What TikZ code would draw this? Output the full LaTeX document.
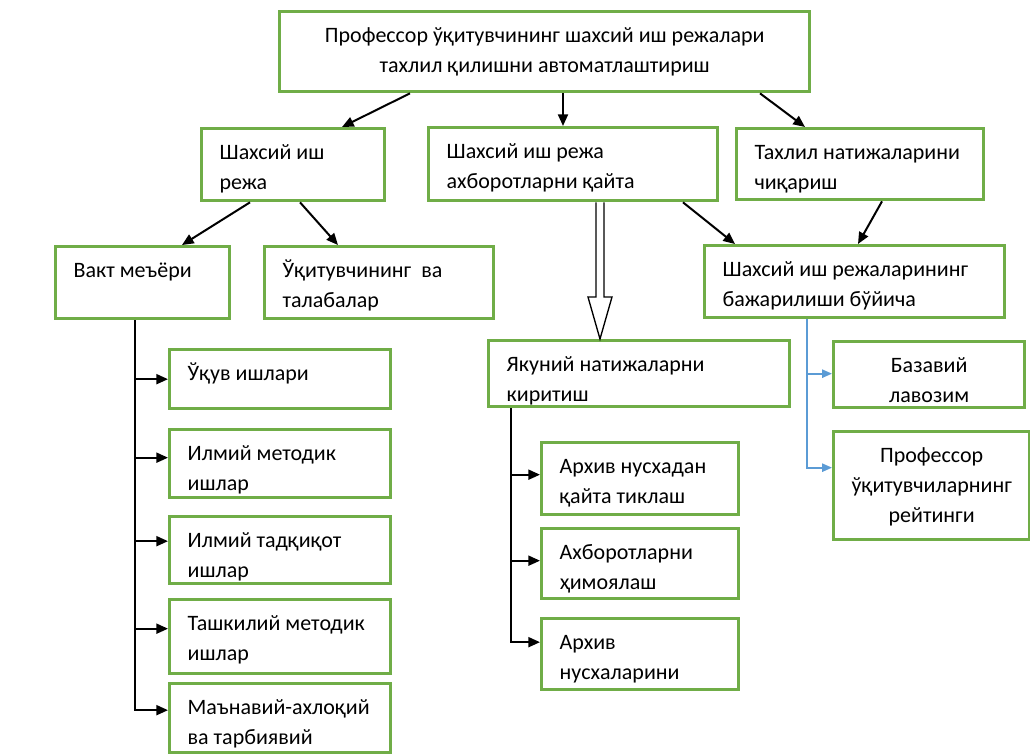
\documentclass[tikz,border=0pt]{standalone}
\usepackage{fontspec}
\setmainfont{Carlito}
\usetikzlibrary{arrows.meta,calc}
\definecolor{boxgreen}{HTML}{70AD47}
\definecolor{linkblue}{HTML}{5B9BD5}
\newlength{\pxl}
\setlength{\pxl}{0.6pt}
\newcommand{\btext}[3]{\parbox[t][\dimexpr#2\pxl-20\pxl\relax][t]{\dimexpr#1\pxl-36\pxl\relax}{\strut#3}}

\begin{document}
\begin{tikzpicture}[x=0.6pt, y=-0.6pt,
    box/.style={draw=boxgreen, line width=2pt, fill=white, anchor=north west,
      inner xsep=10.8pt, inner ysep=6pt, font=\fontsize{13.2}{18}\selectfont},
    arr/.style={line width=1.2pt, -{Triangle[length=7pt,width=6pt]}},
    bluearr/.style={draw=linkblue, line width=1pt, -{Triangle[length=6pt,width=5pt]}}]
  \useasboundingbox (0,0) rectangle (1030,753);

  \node[box] (prof) at (278,10) {\btext{530}{80}{\centering Профессор~ўқитувчининг~шахсий~иш~режалари\\ тахлил қилишни автоматлаштириш}};

  \node[box] (reja) at (200,127) {\btext{183}{72}{Шахсий иш\\ режа}};
  \node[box] (axb) at (427,126) {\btext{289}{73}{Шахсий~иш~режа\\ ахборотларни~қайта}};
  \node[box] (tahlil) at (735,127) {\btext{247}{71}{Тахлил~натижаларини\\ чиқариш}};

  \node[box] (vakt) at (54,245) {\btext{174}{72}{Вакт меъёри}};
  \node[box] (ukit) at (263,245) {\btext{229}{72}{Ўқитувчининг\ \ ва\\ талабалар}};
  \node[box] (bajar) at (703,244) {\btext{300}{72}{Шахсий~иш~режаларининг\\ бажарилиши~бўйича}};

  \node[box] (ukuv) at (168,348) {\btext{221}{59}{Ўқув ишлари}};
  \node[box] (ilmet) at (168,428) {\btext{221}{68}{Илмий~методик\\ ишлар}};
  \node[box] (iltad) at (168,515) {\btext{221}{67}{Илмий~тадқиқот\\ ишлар}};
  \node[box] (tashk) at (168,598) {\btext{221}{74}{Ташкилий~методик\\ ишлар}};
  \node[box] (manav) at (168,682) {\btext{221}{69}{\mbox{Маънавий-ахлоқий}\\ ва~тарбиявий}};

  \node[box] (yakun) at (487,339) {\btext{301}{66}{Якуний~натижаларни\\ киритиш}};
  \node[box] (arch1) at (540,441) {\btext{197}{72}{Архив~нусхадан\\ қайта~тиклаш}};
  \node[box] (himoya) at (540,527) {\btext{197}{70}{Ахборотларни\\ ҳимоялаш}};
  \node[box] (arch3) at (540,617) {\btext{197}{71}{Архив\\ нусхаларини}};

  \node[box] (bazav) at (832,340) {\btext{191}{66}{\centering Базавий\\ лавозим}};
  \node[box] (prof2) at (832,430) {\btext{196}{108}{\centering Профессор\\ ўқитувчиларнинг\\ рейтинги}};

  \draw[arr] ($(prof.south west)+(132,0)$) -- ($(reja.north west)+(142,0)$);
  \draw[arr] ($(prof.south west)+(285,0)$) -- ($(axb.north west)+(136,0)$);
  \draw[arr] ($(prof.south west)+(482,0)$) -- ($(tahlil.north west)+(70,0)$);

  \draw[arr] ($(reja.south west)+(50,0)$) -- ($(vakt.north west)+(128,0)$);
  \draw[arr] ($(reja.south west)+(100,0)$) -- ($(ukit.north west)+(75,0)$);
  \draw[arr] ($(axb.south west)+(256,0)$) -- ($(bajar.north west)+(32,0)$);
  \draw[arr] ($(tahlil.south west)+(147,0)$) -- ($(bajar.north west)+(155,0)$);

  \draw[arr] ($(vakt.south west)+(81,0)$) |- ($(manav.west)+(0,-8)$);
  \foreach \n/\d in {ukuv/0,ilmet/-6,iltad/-9,tashk/-8}
    \draw[arr] ($(\n.west)+(-33,\d)$) -- ++(33,0);

  \coordinate (holl) at (600,0);
  \draw[line width=0.8pt, fill=white] ($(axb.south -| holl)+(-4,0)$) |- ($(yakun.north -| holl)+(-12,-42)$)
    -- (yakun.north -| holl) -- ($(yakun.north -| holl)+(12,-42)$) -| ($(axb.south -| holl)+(4,0)$);

  \draw[arr] ($(yakun.south west)+(24,0)$) |- ($(arch3.west)+(0,-12)$);
  \foreach \n/\d in {arch1/-4,himoya/-3}
    \draw[arr] ($(\n.west)+(-29,\d)$) -- ++(29,0);

  \draw[bluearr] ($(bajar.south west)+(104,0)$) |- ($(prof2.west)+(0,-18)$);
  \draw[bluearr] ($(bazav.west)+(-25,-1)$) -- ++(25,0);
\end{tikzpicture}
\end{document}
